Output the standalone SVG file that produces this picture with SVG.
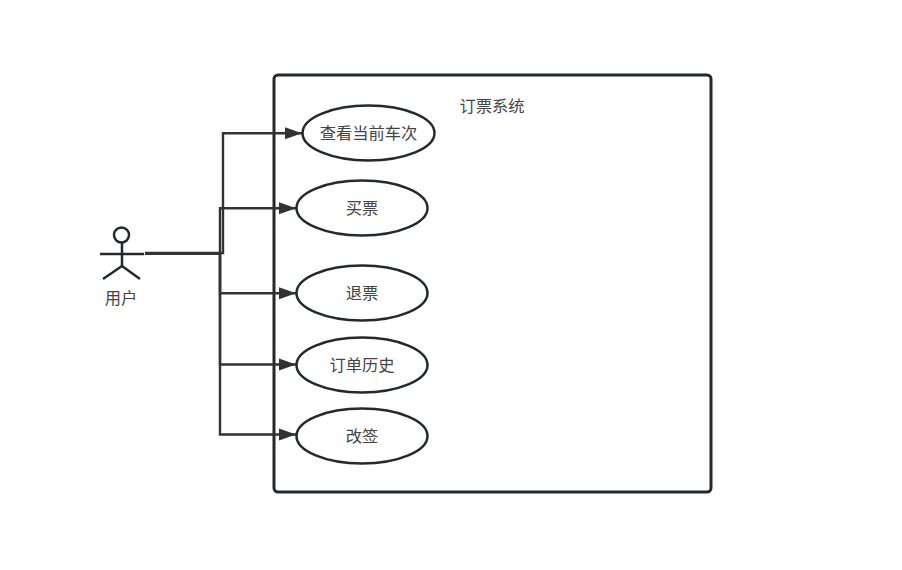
<svg xmlns="http://www.w3.org/2000/svg" width="902" height="570" viewBox="0 0 902 570">
<style>
text{font-family:"Liberation Sans","Noto Sans CJK SC",sans-serif;font-size:16.3px;fill:#444;text-anchor:middle}
.s{fill:#fff;stroke:#222a30;stroke-width:2.5}
.b{fill:#fff;stroke:#222a30;stroke-width:3}
.l{fill:none;stroke:#323232;stroke-width:2.4}
</style>
<defs><marker id="a" markerUnits="userSpaceOnUse" markerWidth="19" markerHeight="14" refX="17" refY="7" orient="auto"><path d="M0 1L17 7L0 13Z" fill="#323232"/></marker></defs>
<rect width="902" height="570" fill="#fff"/>
<g id="system"><rect class="b" x="274" y="75" width="437" height="417" rx="4"/><text x="492" y="112">订票系统</text></g>
<g id="connectors">
<path class="l" marker-end="url(#a)" d="M145 253L223 253L223 133.300L302 133.300"/>
<path class="l" marker-end="url(#a)" d="M145 253.500L220 253.500L220 208.300L296 208.300"/>
<path class="l" marker-end="url(#a)" d="M145 253.500L220 253.500L220 293.300L296 293.300"/>
<path class="l" marker-end="url(#a)" d="M145 253.500L220 253.500L220 364.500L296 364.500"/>
<path class="l" marker-end="url(#a)" d="M145 253.500L220 253.500L220 434.500L296 434.500"/>
</g>
<g id="actor"><circle class="s" cx="121.500" cy="235" r="7.500"/><path class="s" fill="none" d="M122 243V266M100 254H144M122 266L103 279M122 266L140 279"/><text x="121" y="304">用户</text></g>
<g id="u1"><ellipse class="s" cx="368.500" cy="133" rx="66" ry="27.500"/><text x="368.500" y="139">查看当前车次</text></g>
<g id="u2"><ellipse class="s" cx="362" cy="208" rx="65.500" ry="27.500"/><text x="362" y="214">买票</text></g>
<g id="u3"><ellipse class="s" cx="362" cy="293" rx="65.500" ry="27.500"/><text x="362" y="299">退票</text></g>
<g id="u4"><ellipse class="s" cx="362" cy="365" rx="65.500" ry="27.500"/><text x="362" y="371">订单历史</text></g>
<g id="u5"><ellipse class="s" cx="362" cy="436" rx="65.500" ry="27.500"/><text x="362" y="442">改签</text></g>
</svg>
